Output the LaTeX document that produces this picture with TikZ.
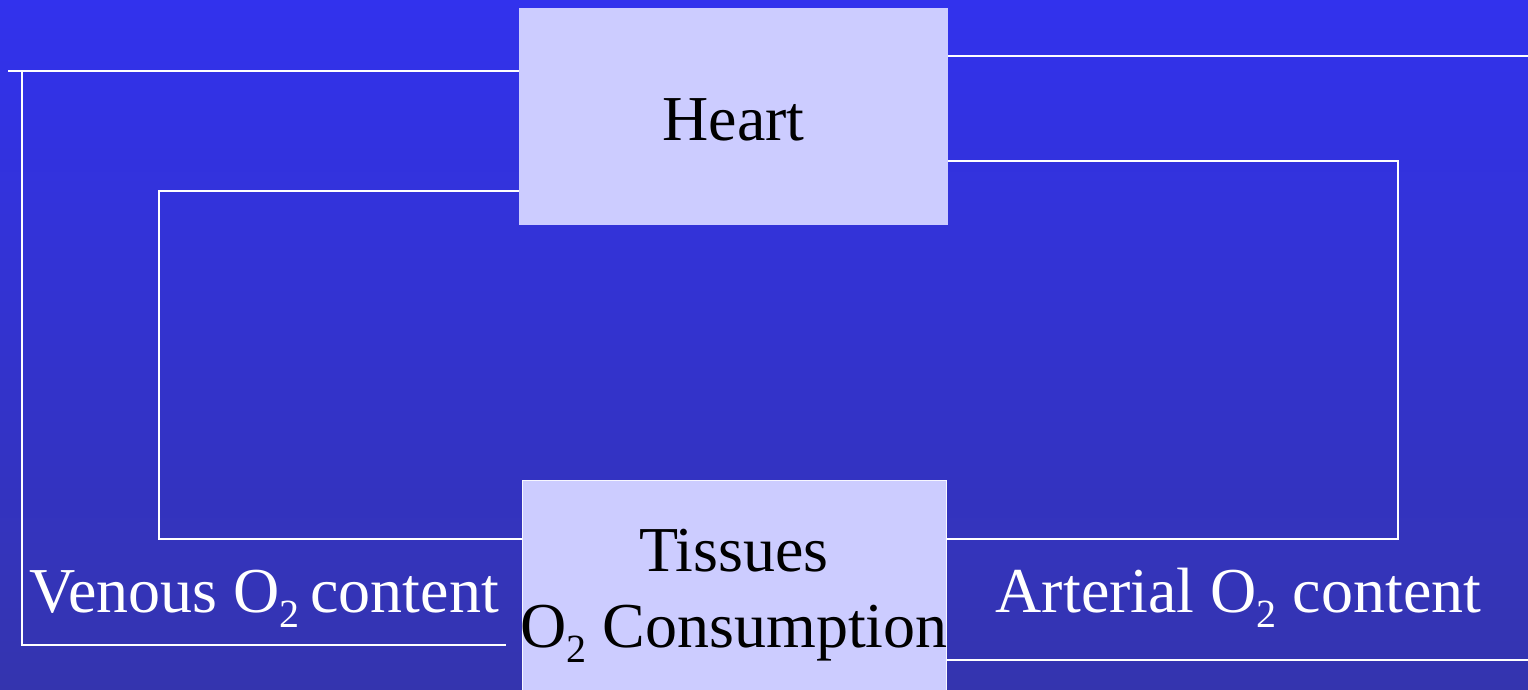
\documentclass[tikz,border=0pt]{standalone}
\usepackage{fontspec}
\setmainfont{Liberation Serif}
\definecolor{bgtop}{RGB}{50,50,237}
\definecolor{bgbot}{RGB}{52,52,174}
\definecolor{boxfill}{RGB}{204,204,255}
\newcommand\subtwo{\raisebox{-15pt}{\fontsize{40}{40}\selectfont 2}}
\begin{document}
\begin{tikzpicture}[x=1pt,y=-1pt,
  boxnode/.style={draw=none,fill=boxfill,inner sep=0pt,anchor=north west},
  lbl/.style={inner sep=0pt,anchor=base,font=\fontsize{64}{76}\selectfont},
  wire/.style={draw=white,line width=1.6pt}]
\useasboundingbox (0,0) rectangle (1528,690);
\shade[top color=bgtop,bottom color=bgbot] (0,0) rectangle (1528,690);
\clip (0,0) rectangle (1528,690);
% boxes
\node[boxnode,minimum width=429pt,minimum height=217pt] (heart) at (519,8) {};
\node[boxnode,draw=white!85!boxfill,line width=1pt,minimum width=424pt,minimum height=230pt] (tissues) at (522,479.5) {};
% box texts
\node[lbl,text=black] (hearttext) at (733.5,141) {Heart};
\node[lbl,text=black] (tissuestext) at (734,571) {Tissues};
\node[lbl,text=black] (consumptext) at (734,647) {O\subtwo\ Consumption};
% side labels
\node[lbl,text=white] (venous) at (264,612) {Venous O\subtwo\,content};
\node[lbl,text=white] (arterial) at (1238.5,612) {Arterial O\subtwo\ content};
% coordinates
\coordinate (l1s) at (8,71);
\coordinate (l1v) at (22,71);
\coordinate (l1b) at (22,645);
\coordinate (l1e) at (506,645);
\coordinate (l2a) at (159,191);
\coordinate (l2b) at (159,539);
\coordinate (r1e) at (1528,56);
\coordinate (r2a) at (1398,161);
\coordinate (r2b) at (1398,539);
\coordinate (r3e) at (1528,660);
% connectors
\draw[wire] (l1s) -- (heart.west |- l1s);
\draw[wire] (l1v) -- (l1b) -- (l1e);
\draw[wire] (heart.west |- l2a) -- (l2a) -- (l2b) -- (tissues.west |- l2b);
\draw[wire] (heart.east |- r1e) -- (r1e);
\draw[wire] (heart.east |- r2a) -- (r2a) -- (r2b) -- (tissues.east |- r2b);
\draw[wire] (tissues.east |- r3e) -- (r3e);
\end{tikzpicture}
\end{document}
